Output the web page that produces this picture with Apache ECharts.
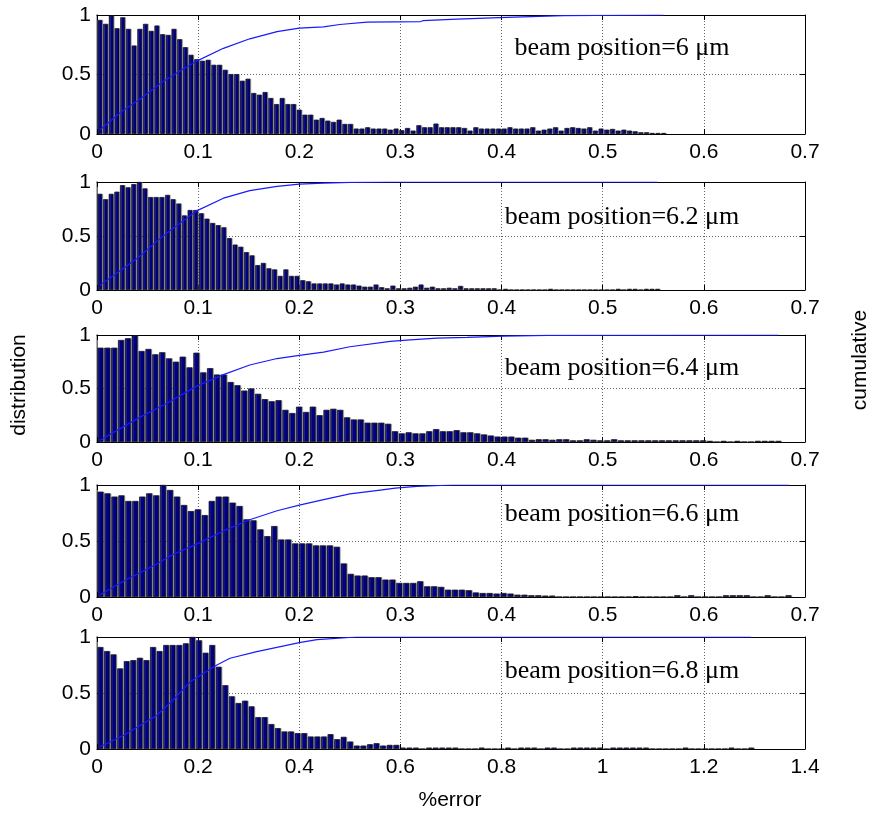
<!DOCTYPE html>
<html><head><meta charset="utf-8">
<script src="https://cdn.jsdelivr.net/npm/echarts@6/dist/echarts.min.js"></script>
<style>html,body{margin:0;padding:0;background:#fff}#c{width:871px;height:814px}</style>
</head><body><div id="c"></div><script>
// ---- data ----
const beamLabels = ['beam position=6 \u03bcm','beam position=6.2 \u03bcm','beam position=6.4 \u03bcm','beam position=6.6 \u03bcm','beam position=6.8 \u03bcm'];
const xMax = [0.7,0.7,0.7,0.7,1.4];
const xInterval = [0.1,0.1,0.1,0.1,0.2];
const binWidth = [0.00563,0.00557,0.00677,0.00687,0.0130];

const dist1 = [0.958,0.925,0.994,0.888,0.980,0.883,0.743,0.883,0.925,0.866,
0.911,0.838,0.832,0.883,0.796,0.729,0.665,0.628,0.615,0.623,
0.581,0.581,0.539,0.503,0.503,0.447,0.464,0.344,0.330,0.352,
0.302,0.251,0.302,0.251,0.251,0.204,0.162,0.162,0.120,0.134,
0.112,0.101,0.120,0.084,0.084,0.045,0.045,0.056,0.045,0.045,
0.045,
0.036,0.045,0.031,0.050,0.028,0.073,0.056,0.056,0.087,0.056,
0.056,0.056,0.056,0.050,0.028,0.056,0.045,0.045,0.045,0.045,
0.045,0.056,0.045,0.045,0.045,0.056,0.028,0.036,0.045,0.056,
0.028,0.050,0.056,0.050,0.045,0.056,0.028,0.045,0.036,0.042,
0.028,0.036,0.028,0.022,0.014,0.014,0.008,0.008,0.008];

const dist2 = [0.89,0.84,0.89,0.91,0.97,0.95,0.98,1.0,0.94,0.86,
0.86,0.86,0.88,0.84,0.80,0.69,0.74,0.74,0.71,0.66,
0.62,0.60,0.58,0.48,0.42,0.40,0.35,0.32,0.23,0.25,
0.20,0.19,0.13,0.19,0.13,0.13,0.09,0.08,0.06,0.06,
0.06,0.06,0.05,0.06,0.05,0.05,0.04,0.03,0.03,0.05,
0.025,0.015,
0.04,0.015,0.015,0.02,0.03,0.05,0.02,0.03,0.015,0.015,0.02,0.015,0.037,0.015,0.015,0.015,0.015,0.015,0.015,
0,0.01,0,0,0,0,0,0,0,0.01,0,0,0,0,0,0,0,0,0,0,0,0.01,0,0.01,0.01,0,0.01,0.01,0.01];

const dist3 = [0.881,0.881,0.881,0.953,0.969,0.994,0.850,0.869,0.819,0.838,0.781,0.750,0.797,0.697,0.834,
0.65,0.69,0.63,0.63,0.56,0.53,0.48,0.50,0.45,0.40,0.38,0.39,0.30,0.27,0.33,0.28,0.33,0.25,0.30,0.31,0.30,0.23,0.21,0.21,0.18,0.18,0.18,0.17,
0.10,0.08,0.09,0.08,0.08,0.10,0.12,0.10,0.10,0.11,0.09,0.09,0.08,0.07,0.06,
0.05,0.05,0.05,0.04,0.04,
0.02,0.025,0.025,0.02,0.025,0.025,0.015,0.015,0.025,0.02,
0.015,0.015,0.025,0.015,0.015,0.015,0.015,0.015,0.015,0.015,0.015,0.015,
0.015,0.015,0.015,0.015,
0.01,0,0.01,0,0.01,0,0,0.01,0.01,0.01,0.01];

const dist4 = [0.940,0.925,0.896,0.907,0.857,0.857,0.896,0.925,0.907,1.0,
0.955,0.896,0.821,0.767,0.782,0.731,0.857,0.896,0.896,0.842,
0.812,0.693,0.684,0.603,0.543,0.633,0.513,0.513,0.478,0.478,
0.478,0.460,0.460,0.460,0.448,0.299,0.206,0.191,0.191,0.176,
0.176,0.155,0.155,
0.125,0.125,0.125,0.14,0.095,0.095,0.09,0.065,0.065,0.065,0.06,
0.04,0.035,0.035,0.03,0.035,0.03,0.02,0.02,0.015,0.015,0.012,0.012,
0,0,0,0,0,0,0,0,0,0,0,0.006,0,0,0,0,0,0.015,0,0.015,0,0,0,0,
0.015,0.015,0.015,0.015,0,0,0.015,0,0,0.015];

const dist5 = [0.910,0.874,0.844,0.719,0.784,0.793,0.814,0.793,0.910,0.874,
0.928,0.928,0.928,0.943,1.0,0.970,0.859,0.928,0.734,0.569,
0.470,0.410,0.431,0.380,0.284,0.284,0.222,0.186,0.156,0.156,
0.141,0.141,0.111,0.111,0.111,0.132,0.087,0.108,0.066,0.030,
0.030,0.042,0.051,0.030,0.036,
0.036,0.012,0.012,0.012,0,0.012,0.012,0.012,0.012,0.012,0,0,0,0.012,0,0,0,0.012,0,
0.012,0.012,0.012,0,0.012,0.012,0,0,0.012,0.012,0.012,0.012,0.012,0,
0.012,0.012,0.012,0.012,0.012,0.012,0,0,0,0,0,0.012,0,0,0,0,0,0,0.012,0,0,0.012];

const cum1 = [[0.003,0.036],[0.026,0.20],[0.042,0.29],[0.065,0.44],[0.082,0.53],[0.098,0.61],[0.125,0.72],[0.151,0.80],[0.178,0.86],[0.2,0.89],[0.224,0.90],[0.24,0.92],[0.267,0.94],[0.32,0.945],[0.322,0.952],[0.356,0.966],[0.405,0.98],[0.461,0.994],[0.56,1.0]];
const cum2 = [[0.003,0.046],[0.026,0.2],[0.042,0.31],[0.059,0.45],[0.075,0.57],[0.098,0.73],[0.125,0.85],[0.151,0.92],[0.178,0.96],[0.2,0.98],[0.224,0.99],[0.25,0.997],[0.29,1.0],[0.554,1.0]];
const cum3 = [[0.003,0.016],[0.042,0.23],[0.069,0.36],[0.098,0.52],[0.125,0.63],[0.151,0.72],[0.178,0.78],[0.2,0.81],[0.224,0.84],[0.25,0.89],[0.29,0.94],[0.306,0.953],[0.336,0.97],[0.366,0.978],[0.402,0.99],[0.445,0.997],[0.674,1.0]];
const cum4 = [[0.003,0.02],[0.026,0.14],[0.042,0.215],[0.059,0.295],[0.075,0.38],[0.098,0.47],[0.125,0.59],[0.151,0.69],[0.178,0.77],[0.2,0.82],[0.224,0.87],[0.25,0.92],[0.28,0.955],[0.295,0.972],[0.316,0.988],[0.352,1.0],[0.684,1.0]];
const cum5 = [[0.006,0.02],[0.052,0.12],[0.118,0.30],[0.151,0.44],[0.184,0.60],[0.237,0.75],[0.263,0.81],[0.316,0.87],[0.40,0.95],[0.435,0.976],[0.514,1.0],[1.293,1.0]];

const dists = [dist1,dist2,dist3,dist4,dist5];
const cums = [cum1,cum2,cum3,cum4,cum5];

// ---- layout ----
const GL = 97, GW = 708;
const tops = [15,182,335,485,637];
const heights = [119,108,107,112,112];
const FONT = 'Liberation Sans, Arial, sans-serif';
const FS = 21;

const grids=[], xAxes=[], yAxes=[], series=[], graphics=[];
for (let k=0;k<5;k++){
  grids.push({left:GL, top:tops[k], width:GW, height:heights[k]});
  const line = {show:true, onZero:false, lineStyle:{color:'#000', width:1}};
  const xb = xAxes.length;
  xAxes.push({type:'value', gridIndex:k, position:'bottom', min:0, max:xMax[k], interval:xInterval[k],
    axisLine:line, axisTick:{show:true, inside:true, length:5, lineStyle:{color:'#000'}},
    axisLabel:{color:'#000', fontSize:FS, fontFamily:FONT, margin:8, showMinLabel:true, showMaxLabel:true},
    splitLine:{show:true, lineStyle:{type:[1,2], color:'#666', width:1}}});
  xAxes.push({type:'value', gridIndex:k, position:'top', min:0, max:xMax[k], interval:xInterval[k],
    axisLine:line, axisTick:{show:true, inside:true, length:5, lineStyle:{color:'#000'}},
    axisLabel:{show:false}, splitLine:{show:false}});
  const yl = yAxes.length;
  yAxes.push({type:'value', gridIndex:k, position:'left', min:0, max:1, interval:0.5,
    axisLine:line, axisTick:{show:true, inside:true, length:5, lineStyle:{color:'#000'}},
    axisLabel:{color:'#000', fontSize:FS, fontFamily:FONT, margin:6},
    splitLine:{show:true, lineStyle:{type:[1,2], color:'#666', width:1}}});
  const yr = yAxes.length;
  yAxes.push({type:'value', gridIndex:k, position:'right', min:0, max:1, interval:0.5,
    axisLine:line, axisTick:{show:true, inside:true, length:5, lineStyle:{color:'#000'}},
    axisLabel:{show:false}, splitLine:{show:false}});
  yAxes.push({type:'value', gridIndex:k, position:'right', offset:1, min:0, max:1, interval:0.5,
    axisLine:{show:true, lineStyle:{color:'#999', width:1.5}}, axisTick:{show:true, inside:false, length:3, lineStyle:{color:'#000'}},
    axisLabel:{show:false}, splitLine:{show:false}});
  const w = binWidth[k];
  const binPx = w*GW/xMax[k];
  series.push({type:'bar', xAxisIndex:xb, yAxisIndex:yl, barWidth:binPx-1,
    data: dists[k].map((v,i)=>[(i+0.5)*w, v]),
    itemStyle:{color:'#000080', borderColor:'#000', borderWidth:0.6, shadowColor:'rgba(120,120,120,0.6)', shadowOffsetX:1, shadowBlur:0},
    silent:true, z:2});
  series.push({type:'line', xAxisIndex:xb, yAxisIndex:yr, data:cums[k], showSymbol:false, symbol:'none',
    lineStyle:{color:'#1a1aff', width:1.2}, silent:true, z:5});
}
const annY = [48,217,368,514,671];
for (let k=0;k<5;k++){
  graphics.push({type:'text', x:622, y:annY[k], z:10, style:{text:beamLabels[k], font:'26px "Liberation Serif", "Times New Roman", serif', fill:'#000', textAlign:'center', textVerticalAlign:'middle', align:'center', verticalAlign:'middle'}});
}
graphics.push({type:'text', x:19, y:385, rotation:Math.PI/2, z:10, style:{text:'distribution', font:FS+'px '+FONT, fill:'#000', textAlign:'center', textVerticalAlign:'middle', align:'center', verticalAlign:'middle'}});
graphics.push({type:'text', x:860, y:360, rotation:Math.PI/2, z:10, style:{text:'cumulative', font:FS+'px '+FONT, fill:'#000', textAlign:'center', textVerticalAlign:'middle', align:'center', verticalAlign:'middle'}});
graphics.push({type:'text', x:450, y:800, z:10, style:{text:'%error', font:FS+'px '+FONT, fill:'#000', textAlign:'center', textVerticalAlign:'middle', align:'center', verticalAlign:'middle'}});

const chart = echarts.init(document.getElementById('c'));
chart.setOption({animation:false, backgroundColor:'#fff', grid:grids, xAxis:xAxes, yAxis:yAxes, series:series, graphic:graphics});
</script></body></html>
